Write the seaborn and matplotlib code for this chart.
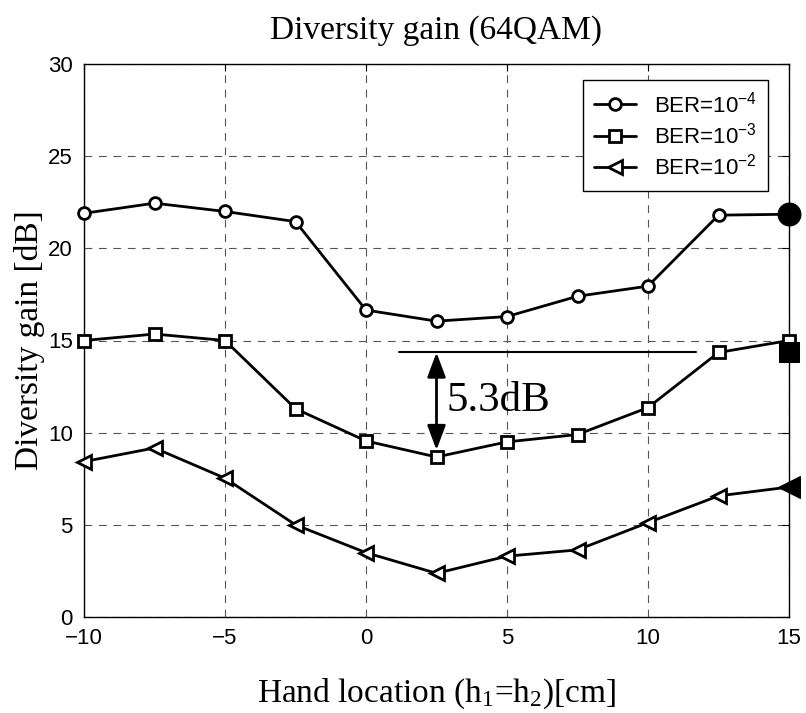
import matplotlib
matplotlib.use("Agg")
import matplotlib.pyplot as plt
import seaborn as sns
import pandas as pd

# ---------------- data ----------------
hand_cm = [-10, -7.5, -5, -2.5, 0, 2.5, 5, 7.5, 10, 12.5, 15]
gain_ber4 = [21.9, 22.45, 22.0, 21.45, 16.65, 16.05, 16.3, 17.4, 17.95, 21.8, 21.85]
gain_ber3 = [15.0, 15.35, 15.0, 11.3, 9.55, 8.68, 9.5, 9.9, 11.36, 14.35, 15.0]
gain_ber2 = [8.43, 9.17, 7.53, 5.0, 3.49, 2.37, 3.3, 3.64, 5.12, 6.57, 7.05]
series_labels = ["BER=10$^{-4}$", "BER=10$^{-3}$", "BER=10$^{-2}$"]

ref_x = [15, 15, 15]
ref_gain = [21.85, 14.35, 7.05]

xticks = [-10, -5, 0, 5, 10, 15]
yticks = [0, 5, 10, 15, 20, 25, 30]

gap_line_x = [1.18, 11.7]
gap_top = 14.35
gap_bottom = 8.68
gap_x = 2.5
gap_text = "5.3dB"

title = "Diversity gain (64QAM)"
xlabel = "Hand location (h$_1$=h$_2$)[cm]"
ylabel = "Diversity gain [dB]"

# ---------------- style ----------------
sns.set_style("white")
plt.rcParams["font.family"] = ["Liberation Sans", "DejaVu Sans"]
plt.rcParams["mathtext.default"] = "regular"
plt.rcParams["axes.unicode_minus"] = True
for key in ["text.color", "axes.labelcolor", "xtick.color", "ytick.color"]:
    plt.rcParams[key] = "black"

fig = plt.figure(figsize=(8.06, 7.13), dpi=100)
ax = fig.add_axes([84 / 806, 1 - 617 / 713, 705 / 806, 553 / 713])

markers = ["o", "s", "<"]
msizes = [8.5, 8.5, 10.5]
for vals, lab, m, ms in zip([gain_ber4, gain_ber3, gain_ber2], series_labels, markers, msizes):
    df = pd.DataFrame({"x": hand_cm, "y": vals})
    sns.lineplot(data=df, x="x", y="y", ax=ax, color="black", lw=2.0, marker=m,
                 markersize=ms, markerfacecolor="white", markeredgecolor="black",
                 markeredgewidth=2.0, label=lab, clip_on=False, zorder=3)

ref_sizes = [16.5, 14, 16.5]
for rx, ry, m, ms in zip(ref_x, ref_gain, markers, ref_sizes):
    sns.lineplot(x=[rx], y=[ry], ax=ax, color="black", linestyle="", marker=m,
                 markersize=ms, markerfacecolor="black", markeredgecolor="black",
                 clip_on=False, zorder=4, legend=False)

# annotation of the gap
sns.lineplot(x=gap_line_x, y=[gap_top, gap_top], ax=ax, color="black", lw=1.5,
             legend=False, zorder=2)
ax.annotate("", xy=(gap_x, gap_bottom), xytext=(gap_x, gap_top),
            arrowprops=dict(arrowstyle="<|-|>,head_length=0.75,head_width=0.28",
                            color="black", lw=2, mutation_scale=20,
                            shrinkA=0, shrinkB=5), zorder=3)
ax.text(gap_x + 0.36, (gap_top + gap_bottom) / 2 + 0.2, gap_text,
        family=["Liberation Serif"], fontsize=31, va="center", ha="left")

ax.set_xlim(-10, 15)
ax.set_ylim(0, 30)
ax.set_xticks(xticks)
ax.set_yticks(yticks)
ax.tick_params(direction="in", length=5, width=0.8, labelsize=16,
               top=True, right=True, pad=8, colors="black")
ax.grid(True, color="#555555", linestyle=(0, (7, 6)), linewidth=0.8)
for sp in ax.spines.values():
    sp.set_color("black")
    sp.set_linewidth(1.0)

ax.set_title(title, family=["Liberation Serif"], fontsize=24, pad=18, color="black")
ax.set_xlabel(xlabel, family=["Liberation Serif"], fontsize=24, labelpad=20)
ax.set_ylabel(ylabel, family=["Liberation Serif"], fontsize=24, labelpad=2)

leg = ax.legend(loc="upper right", bbox_to_anchor=(0.970, 0.971), borderaxespad=0,
                frameon=True, fancybox=False, edgecolor="black", framealpha=1,
                fontsize=16, handlelength=1.9, handletextpad=0.8,
                labelspacing=0.25, borderpad=0.5)
leg.get_frame().set_linewidth(1.0)
for t in leg.get_texts():
    t.set_color("black")

fig.savefig("out.png", dpi=100)
